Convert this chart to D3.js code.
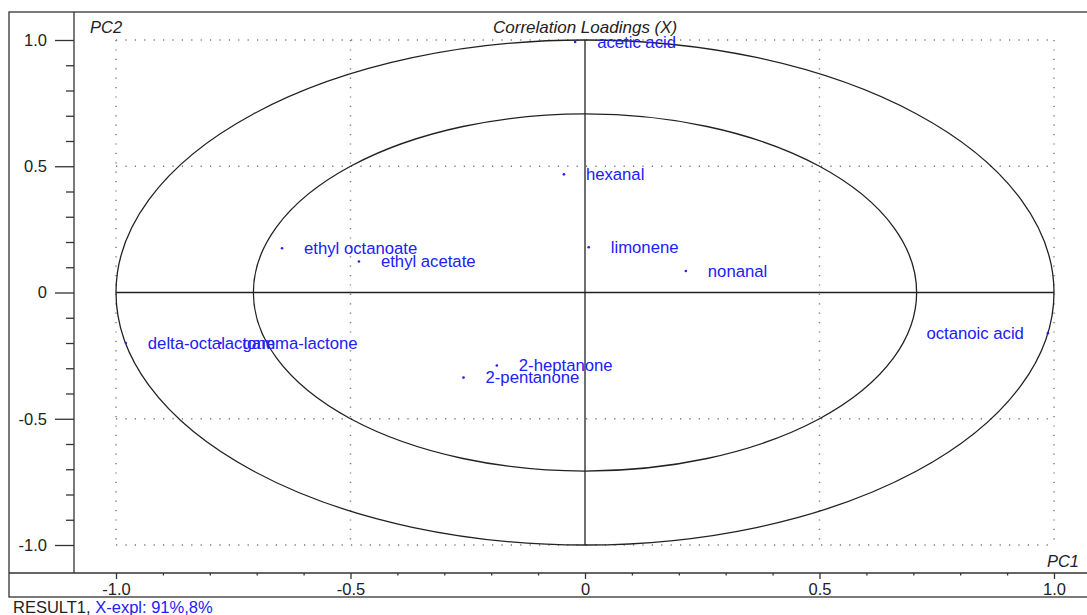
<!DOCTYPE html>
<html>
<head>
<meta charset="utf-8">
<script src="https://cdn.jsdelivr.net/npm/d3@7/dist/d3.min.js"></script>
<style>
  html, body { margin: 0; padding: 0; background: #fff; }
  svg { display: block; font-family: "Liberation Sans", Arial, sans-serif; }
</style>
</head>
<body>
<svg id="chart" width="1087" height="615"></svg>
<script>
// ---- data ----
const variables = ["acetic acid", "hexanal", "limonene", "nonanal", "ethyl octanoate",
  "ethyl acetate", "delta-octalactone", "gamma-lactone", "2-heptanone", "2-pentanone", "octanoic acid"];
const pc1 = [-0.021, -0.045, 0.008, 0.215, -0.646, -0.482, -0.979, -0.777, -0.188, -0.259, 0.987];
const pc2 = [0.992, 0.468, 0.179, 0.085, 0.175, 0.123, -0.200, -0.200, -0.289, -0.337, -0.161];
const majorTicks = [-1.0, -0.5, 0, 0.5, 1.0];
const majorTickLabels = ["-1.0", "-0.5", "0", "0.5", "1.0"];
const minorTicks = d3.range(-10, 11).map(i => i / 10);
const circleRadii = [1.0, Math.SQRT1_2];
const gridValues = [-1.0, -0.5, 0.5, 1.0];
const titleText = "Correlation Loadings (X)";
const footerBlack = "RESULT1, ";
const footerBlue = "X-expl: 91%,8%";

// ---- layout ----
const svg = d3.select("#chart");
const frame = { left: 9, top: 12, right: 1087, bottom: 597 };
const plot = { left: 74, top: 12, right: 1087, bottom: 573 };
const x = d3.scaleLinear().domain([0, 1]).range([585, 1054]);
const y = d3.scaleLinear().domain([0, 1]).range([292.5, 40]);
const ink = "#333";
const blue = "#2020f8";
const labelSize = 16.7;

// outer frame
svg.append("rect").attr("x", frame.left).attr("y", frame.top)
  .attr("width", frame.right - frame.left + 5).attr("height", frame.bottom - frame.top)
  .attr("fill", "none").attr("stroke", ink).attr("stroke-width", 1.3);

// axes lines (plot box left/bottom)
svg.append("line").attr("x1", plot.left).attr("x2", plot.left).attr("y1", plot.top).attr("y2", plot.bottom)
  .attr("stroke", ink).attr("stroke-width", 1.3);
svg.append("line").attr("x1", frame.left).attr("x2", frame.right + 5).attr("y1", plot.bottom).attr("y2", plot.bottom)
  .attr("stroke", ink).attr("stroke-width", 1.3);

// Y axis ticks
const yAxis = d3.axisLeft(y).tickValues(majorTicks).tickSize(19).tickPadding(8)
  .tickFormat((d, i) => majorTickLabels[i]);
const gy = svg.append("g").attr("transform", `translate(${plot.left},0)`).call(yAxis);
gy.select(".domain").remove();
gy.selectAll(".tick line").attr("stroke", ink).attr("stroke-width", 1.3);
gy.selectAll(".tick text").attr("font-size", 16.5).attr("fill", "#222")
  .attr("font-family", "'Liberation Sans', Arial, sans-serif");
const yMinor = d3.axisLeft(y).tickValues(minorTicks.filter(v => !majorTicks.some(m => Math.abs(m - v) < 1e-9)))
  .tickSize(8).tickFormat("");
const gym = svg.append("g").attr("transform", `translate(${plot.left},0)`).call(yMinor);
gym.select(".domain").remove();
gym.selectAll(".tick line").attr("stroke", ink).attr("stroke-width", 1.3);

// X axis ticks
const xAxis = d3.axisBottom(x).tickValues(majorTicks).tickSize(6).tickPadding(4)
  .tickFormat((d, i) => majorTickLabels[i]);
const gx = svg.append("g").attr("transform", `translate(0,${plot.bottom})`).call(xAxis);
gx.select(".domain").remove();
gx.selectAll(".tick line").attr("stroke", ink).attr("stroke-width", 1.3);
gx.selectAll(".tick text").attr("font-size", 16.5).attr("fill", "#222")
  .attr("font-family", "'Liberation Sans', Arial, sans-serif");
const xMinor = d3.axisBottom(x).tickValues(minorTicks.filter(v => !majorTicks.some(m => Math.abs(m - v) < 1e-9)))
  .tickSize(2.5).tickFormat("");
const gxm = svg.append("g").attr("transform", `translate(0,${plot.bottom})`).call(xMinor);
gxm.select(".domain").remove();
gxm.selectAll(".tick line").attr("stroke", ink).attr("stroke-width", 1.3);

// dotted grid
const grid = svg.append("g").attr("stroke", "#777").attr("stroke-width", 1.4)
  .attr("stroke-dasharray", "1.2,8.2").attr("fill", "none");
gridValues.forEach(v => {
  grid.append("line").attr("x1", x(v)).attr("x2", x(v)).attr("y1", y(1)).attr("y2", y(-1));
  grid.append("line").attr("x1", x(-1)).attr("x2", x(1)).attr("y1", y(v)).attr("y2", y(v));
});

// circles (ellipses in pixel space)
circleRadii.forEach(r => {
  svg.append("ellipse").attr("cx", x(0)).attr("cy", y(0))
    .attr("rx", x(r) - x(0)).attr("ry", y(0) - y(r))
    .attr("fill", "none").attr("stroke", "#222").attr("stroke-width", 1.3);
});

// center cross
svg.append("line").attr("x1", x(-1)).attr("x2", x(1)).attr("y1", y(0)).attr("y2", y(0))
  .attr("stroke", "#222").attr("stroke-width", 1.3);
svg.append("line").attr("x1", x(0)).attr("x2", x(0)).attr("y1", y(1)).attr("y2", y(-1))
  .attr("stroke", "#222").attr("stroke-width", 1.3);

// titles
svg.append("text").attr("x", 90).attr("y", 33).attr("font-size", 16.5).attr("font-style", "italic")
  .attr("fill", "#222").text("PC2");
svg.append("text").attr("y", 33).attr("font-size", 17).attr("font-style", "italic")
  .attr("fill", "#222").attr("x", 493).text(titleText);
svg.append("text").attr("x", 1079).attr("y", 567).attr("font-size", 16.5).attr("font-style", "italic")
  .attr("text-anchor", "end").attr("fill", "#222").text("PC1");

// points and labels
const pts = variables.map((name, i) => ({ name, px: pc1[i], py: pc2[i] }));
const gp = svg.append("g");
gp.selectAll("circle").data(pts).join("circle")
  .attr("cx", d => x(d.px)).attr("cy", d => y(d.py)).attr("r", 1.3).attr("fill", blue);
gp.selectAll("text").data(pts).join("text")
  .attr("x", d => x(d.px) + 22).attr("y", d => y(d.py)).attr("dy", "0.35em")
  .attr("font-size", labelSize).attr("fill", blue).text(d => d.name)
  .each(function(d) {
    const w = this.getComputedTextLength();
    if (x(d.px) + 22 + w > plot.right) {
      d3.select(this).attr("x", x(d.px) - 24).attr("text-anchor", "end");
    }
  });

// footer
const ft = svg.append("text").attr("x", 13).attr("y", 613).attr("font-size", 16.5);
ft.append("tspan").attr("fill", "#222").text(footerBlack);
ft.append("tspan").attr("fill", blue).text(footerBlue);
</script>
</body>
</html>
